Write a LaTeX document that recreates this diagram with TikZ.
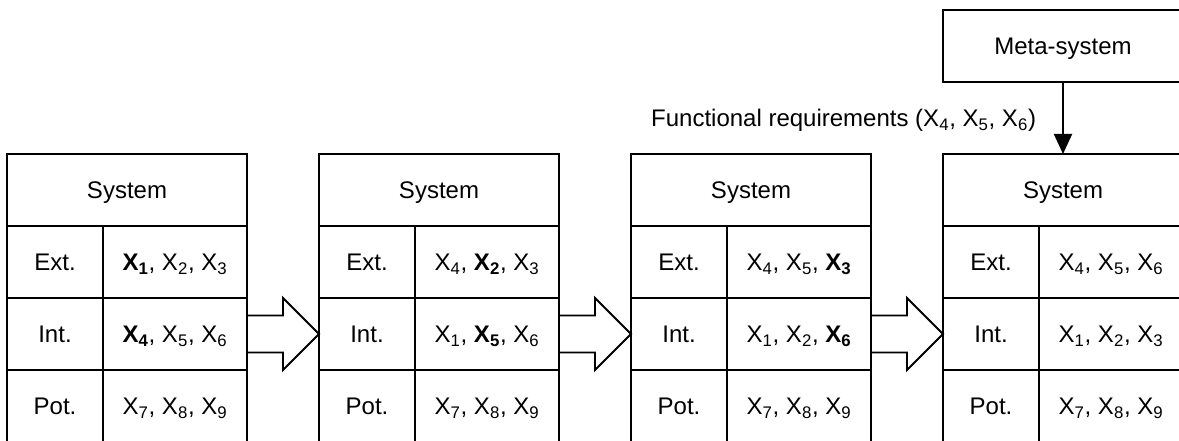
\documentclass[tikz,border=0pt]{standalone}
\usepackage{fontspec}
\setmainfont{Liberation Sans}
\usepackage{tikz}
\usetikzlibrary{arrows.meta}
\newcommand{\xs}[1]{X\textsubscript{#1}}
\newcommand{\xbf}[1]{\textbf{X\textsubscript{#1}}}
\tikzstyle{txt}=[font=\fontsize{18}{22}\selectfont, text height=12.9pt, text depth=0pt, inner sep=0pt, outer sep=0pt]
\tikzstyle{hdr}=[txt, draw, line width=1.4pt, minimum width=180pt, minimum height=54pt]
\tikzstyle{lab}=[hdr, minimum width=72pt]
\tikzstyle{val}=[hdr, minimum width=108pt]
\tikzstyle{fat}=[line width=1.4pt, line join=miter]
\newcommand{\sysblock}[5]{%
  \node[hdr] (#1h) at (#2,250) {System};
  \node[lab, anchor=north west] (#1el) at (#1h.south west) {Ext.};
  \node[val, anchor=west] (#1ev) at (#1el.east) {#3};
  \node[lab, anchor=north] (#1il) at (#1el.south) {Int.};
  \node[val, anchor=west] (#1iv) at (#1il.east) {#4};
  \node[lab, anchor=north] (#1pl) at (#1il.south) {Pot.};
  \node[val, anchor=west] (#1pv) at (#1pl.east) {#5};
}
\newcommand{\fatarrow}[2]{%
  \draw[fat] ([yshift=13.875pt]#1iv.east) -- ++(36,0) -- ++(0,17.5) -- (#2il.west)
    -- ++(-36,-36) -- ++(0,17.5) -- ++(-36,0) -- cycle;
}
\begin{document}
\begin{tikzpicture}[x=0.75pt, y=0.75pt]
  \clip (0,0) rectangle (1179,440);
  \sysblock{s1}{127}{\xbf{1}, \xs{2}, \xs{3}}{\xbf{4}, \xs{5}, \xs{6}}{\xs{7}, \xs{8}, \xs{9}}
  \sysblock{s2}{439}{\xs{4}, \xbf{2}, \xs{3}}{\xs{1}, \xbf{5}, \xs{6}}{\xs{7}, \xs{8}, \xs{9}}
  \sysblock{s3}{751}{\xs{4}, \xs{5}, \xbf{3}}{\xs{1}, \xs{2}, \xbf{6}}{\xs{7}, \xs{8}, \xs{9}}
  \sysblock{s4}{1063}{\xs{4}, \xs{5}, \xs{6}}{\xs{1}, \xs{2}, \xs{3}}{\xs{7}, \xs{8}, \xs{9}}
  \fatarrow{s1}{s2}
  \fatarrow{s2}{s3}
  \fatarrow{s3}{s4}
  \node[hdr] (meta) at (1063,394) {Meta-system};
  \draw[line width=1.4pt, -{Triangle[width=13.5pt, length=15pt]}] (meta) -- (s4h);
  \node[txt, anchor=base east] (req) at (1036,313) {Functional requirements (\xs{4}, \xs{5}, \xs{6})};
\end{tikzpicture}
\end{document}
